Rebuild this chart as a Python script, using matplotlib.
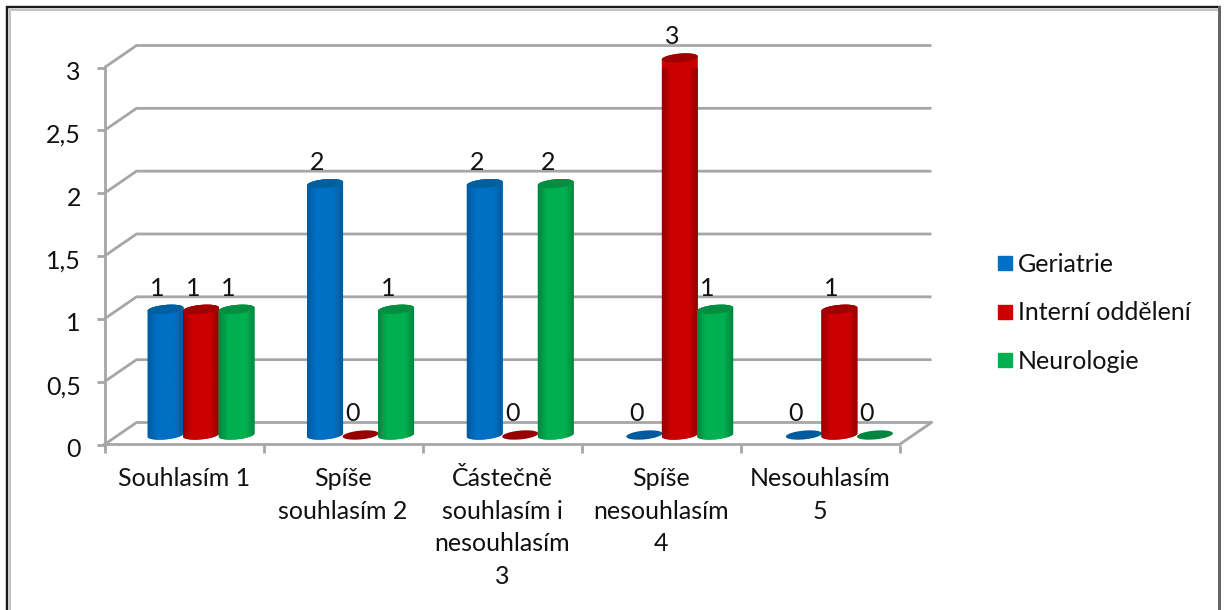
import numpy as np
import matplotlib
matplotlib.use("Agg")
import matplotlib.pyplot as plt
from matplotlib.path import Path
from matplotlib.patches import PathPatch
from matplotlib.colors import LinearSegmentedColormap
from matplotlib.lines import Line2D
from matplotlib.transforms import ScaledTranslation

plt.rcParams["font.family"] = ["Lato", "DejaVu Sans"]

categories = ["Souhlasím 1", "Spíše\nsouhlasím 2", "Částečně\nsouhlasím i\nnesouhlasím\n3",
              "Spíše\nnesouhlasím\n4", "Nesouhlasím\n5"]
series_names = ["Geriatrie", "Interní oddělení", "Neurologie"]
geriatrie = [1, 2, 2, 0, 0]
interni = [1, 0, 0, 3, 1]
neurologie = [1, 1, 2, 1, 0]
y_ticks = [0, 0.5, 1, 1.5, 2, 2.5, 3]
y_tick_labels = ["0", "0,5", "1", "1,5", "2", "2,5", "3"]
series_values = [geriatrie, interni, neurologie]

# side, body, top colours of each cylinder
shades = [("#005a9e", "#0070c4", "#00609f"),
          ("#960000", "#cc0000", "#a00000"),
          ("#008540", "#00b050", "#008f40")]

W, H = 1224, 610
fig = plt.figure(figsize=(W / 100, H / 100), dpi=100, facecolor="white")
ax = fig.add_axes([104.5 / W, (H - 444.5) / H, 795 / W, 377 / H])
ax.set_xlim(0, 5)
ax.set_ylim(0, 3)
ax.patch.set_visible(False)
for s in ax.spines.values():
    s.set_visible(False)

# depth of the box in data units
dx = 32 / 159
dy = 22 / 125.67
grid = "#a6a6a6"
for v in y_ticks:
    ax.plot([0, dx, 5 + dx], [v, v + dy, v + dy], color=grid, lw=2.0,
            clip_on=False, zorder=1, solid_capstyle="butt", solid_joinstyle="miter")
ax.plot([0, 5, 5 + dx], [0, 0, dy], color=grid, lw=2.0, clip_on=False, zorder=1,
        solid_joinstyle="miter")
ax.plot([0, 0], [0, 3], color=grid, lw=2.0, clip_on=False, zorder=1)

ax.set_xticks(range(6))
ax.set_xticklabels([])
ax.set_yticks(y_ticks)
ax.set_yticklabels(y_tick_labels, fontsize=18, color="#111111")
ax.tick_params(axis="both", length=6, width=2, color=grid)
ax.tick_params(axis="y", pad=11)
shift_down = ScaledTranslation(0, -0.03, fig.dpi_scale_trans)
for lab in ax.get_yticklabels():
    lab.set_transform(lab.get_transform() + shift_down)

barw = 36 / 159
gap = 35.5 / 159
spacing = 159.6 / 159
off_x = 17 / 159
off_y = 9.5 / 125.67
a = barw / 2
b = 4.4 / 125.67
k = 1.6 / 125.67


def rim(cx, cy, t):
    return cx + a * np.cos(t), cy + b * np.sin(t) + k * np.cos(t)


for si, vals in enumerate(series_values):
    edge, mid, top = shades[si]
    cmap = LinearSegmentedColormap.from_list("c", [edge, mid, mid, mid, edge])
    for ci, v in enumerate(vals):
        cx = ci * spacing + 0.5 + off_x + (si - 1) * gap
        base = off_y
        z = 3 + 0.1 * si
        if v > 0:
            tb = np.linspace(np.pi, 2 * np.pi, 40)
            xb, yb = rim(cx, base, tb)
            tt = np.linspace(0, np.pi, 40)
            xt, yt = rim(cx, base + v, tt)
            verts = np.r_[np.c_[xb, yb], np.c_[xt, yt], [[xb[0], yb[0]]]]
            body = PathPatch(Path(verts), fc=mid, ec="none", zorder=z, clip_on=False)
            ax.add_patch(body)
            grad = np.linspace(0, 1, 64).reshape(1, -1)
            im = ax.imshow(grad, cmap=cmap, aspect="auto", zorder=z + 0.01,
                           extent=[cx - a, cx + a, base - 2 * b, base + v + 2 * b],
                           interpolation="bilinear")
            im.set_clip_path(body)
        t = np.linspace(0, 2 * np.pi, 60)
        xc, yc = rim(cx, base + v, t)
        ax.fill(xc, yc, color=top if v > 0 else edge, zorder=z + 0.02, clip_on=False, lw=0)
        ax.annotate(str(v), (cx, base + v), xytext=(-8 * 0.72, 7),
                    textcoords="offset points", ha="center", va="bottom", fontsize=18,
                    color="#111111", zorder=6, annotation_clip=False)

ax.set_xlim(0, 5)
ax.set_ylim(0, 3)

for ci, lab in enumerate(categories):
    ax.annotate(lab, (ci + 0.5, 0), xytext=(0, -16), textcoords="offset points", ha="center", va="top",
                fontsize=18, color="#111111", linespacing=1.52, annotation_clip=False)

# legend swatches and entries
handles = [Line2D([], [], ls="", marker="s", ms=10.5, color=shades[i][1]) for i in range(3)]
fig.legend(handles, series_names, loc="center left", bbox_to_anchor=(980 / W, (H - 313) / H),
           frameon=False, fontsize=18, labelspacing=1.02, handlelength=2.0, handletextpad=-0.5,
           labelcolor="#111111", borderpad=0, borderaxespad=0)

# chart frame: dark outer edge with a soft grey inner edge, open at the bottom
for xs, ys, col, lw in [([9.5, 9.5, 1217], [0, H - 9.5, H - 9.5], "#c4c4c4", 2.0),
                        ([7, 7, 1218.5], [0, H - 7, H - 7], "#1a1a1a", 2.4),
                        ([1218.5, 1218.5], [H - 7, 0], "#666666", 3.0)]:
    fig.add_artist(Line2D(np.array(xs) / W, np.array(ys) / H, color=col, lw=lw * 0.72,
                          transform=fig.transFigure, solid_joinstyle="miter"))
fig.savefig("out.png", dpi=100, facecolor="white")
